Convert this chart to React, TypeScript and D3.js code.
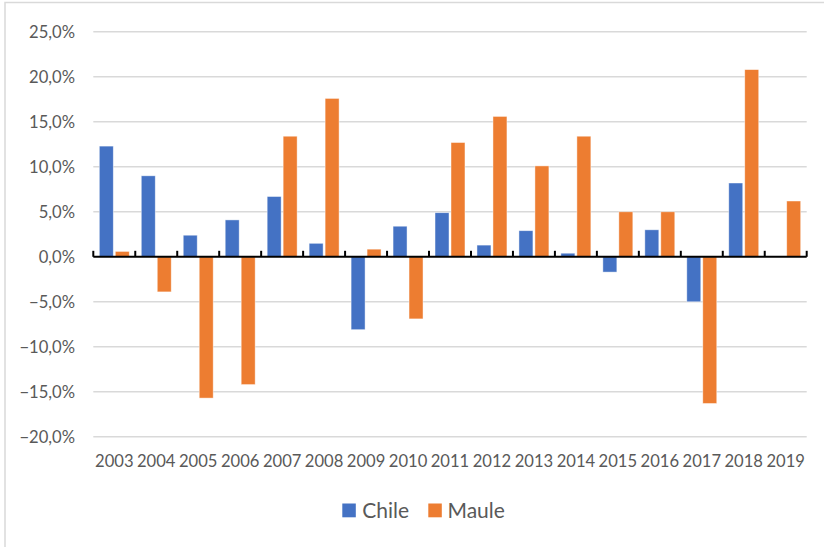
import React from "react";
import * as d3 from "d3";

const years = ["2003","2004","2005","2006","2007","2008","2009","2010","2011","2012","2013","2014","2015","2016","2017","2018","2019"];
const chile: (number | null)[] = [12.3, 9.0, 2.4, 4.1, 6.7, 1.5, -8.1, 3.4, 4.9, 1.3, 2.9, 0.4, -1.7, 3.0, -5.0, 8.2, null];
const maule: (number | null)[] = [0.6, -3.9, -15.7, -14.2, 13.4, 17.6, 0.85, -6.9, 12.7, 15.6, 10.1, 13.4, 5.0, 5.0, -16.3, 20.8, 6.2];
const seriesNames = ["Chile", "Maule"];
const seriesColors = ["#4472C4", "#ED7D31"];
const yTicks = [-20, -15, -10, -5, 0, 5, 10, 15, 20, 25];

const W = 824, H = 547;
const FONT = "Lato, 'Open Sans', sans-serif";
const TXT = "#595959";

export default function App() {
  const x = d3.scaleBand<string>().domain(years).range([93.3, 806.7]).padding(0);
  const step = x.bandwidth();
  const inner = d3.scaleBand<string>().domain(seriesNames).range([6, step - 6]).paddingInner(0.125).paddingOuter(0);
  const y = d3.scaleLinear().domain([-20, 25]).range([436.8, 31.8]);
  const fmt = (v: number) => d3.format(".1f")(v).replace(".", ",") + "%";
  const data = [chile, maule];

  return (
    <svg width={W} height={H} style={{ position: "absolute", left: 0, top: 0, background: "#fff" }}>
      <rect x={0} y={0} width={W} height={H} fill="#fff" />
      <rect x={5} y={2.5} width={W + 20} height={H + 20} fill="none" stroke="#d9d9d9" strokeWidth={1.5} />
      {yTicks.map((t) => (
        <g key={t}>
          {t !== 0 && (
            <line x1={93.3} x2={806.7} y1={y(t)} y2={y(t)} stroke="#d9d9d9" strokeWidth={1.5} />
          )}
          <text x={75} y={y(t) + 6} textAnchor="end" fontFamily={FONT} fontSize={16.6} fill={TXT}>
            {fmt(t)}
          </text>
        </g>
      ))}
      {data.map((vals, si) =>
        vals.map((v, i) => {
          if (v === null) return null;
          const x0 = (x(years[i]) as number) + (inner(seriesNames[si]) as number);
          const y0 = Math.min(y(v), y(0));
          const h = Math.abs(y(v) - y(0));
          return (
            <rect key={`${si}-${i}`} x={x0} y={y0} width={inner.bandwidth()} height={h}
              fill={seriesColors[si]} stroke="#fff" strokeOpacity={0.6} strokeWidth={0.75} />
          );
        })
      )}
      <line x1={93.3} x2={806.7} y1={y(0)} y2={y(0)} stroke="#000" strokeWidth={2} />
      {[...years.map((yr) => x(yr) as number), 806.7].map((tx, i) => (
        <line key={i} x1={tx} x2={tx} y1={y(0)} y2={y(0) - 6} stroke="#000" strokeWidth={2} />
      ))}
      {years.map((yr) => (
        <text key={yr} x={(x(yr) as number) + step / 2} y={467} textAnchor="middle" fontFamily={FONT} fontSize={16.6} fill={TXT}>
          {yr}
        </text>
      ))}
      <g>
        <rect x={342.3} y={503.5} width={13.5} height={13.8} fill={seriesColors[0]} />
        <text x={362.3} y={518} fontFamily={FONT} fontSize={21} fill={TXT}>{seriesNames[0]}</text>
        <rect x={428.3} y={503.5} width={13.5} height={13.8} fill={seriesColors[1]} />
        <text x={447.5} y={518} fontFamily={FONT} fontSize={21} fill={TXT}>{seriesNames[1]}</text>
      </g>
    </svg>
  );
}
